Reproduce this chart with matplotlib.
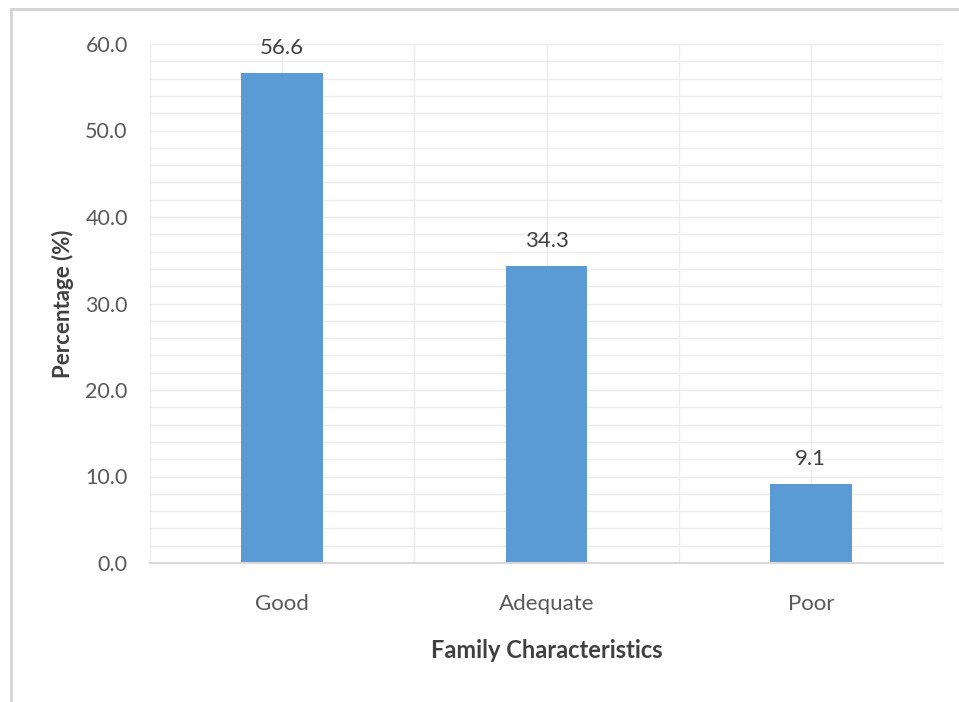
import matplotlib.pyplot as plt
from matplotlib.patches import Rectangle
import numpy as np

categories = ["Good", "Adequate", "Poor"]
percentages = [56.6, 34.3, 9.1]
y_ticks = [0, 10, 20, 30, 40, 50, 60]

plt.rcParams['font.family'] = ['Lato', 'DejaVu Sans']

fig = plt.figure(figsize=(9.59, 7.02), dpi=100)
fig.patch.set_facecolor('white')

# outer chart frame
fig.patches.append(Rectangle((11 / 959, -0.05), 1.2, 1 - 9 / 702 + 0.05,
                             transform=fig.transFigure, fill=False,
                             edgecolor='#d4d4d4', linewidth=2.0, zorder=0))

ax = fig.add_axes([150 / 959, 1 - 563 / 702, 793 / 959, 519 / 702])
x = np.arange(len(categories))
ax.bar(x, percentages, width=0.31, color='#5B9BD5', zorder=3)

ax.set_xlim(-0.5, len(categories) - 0.5)
ax.set_ylim(0, 60)

# minor horizontal grid every 2 units, vertical grid at centres and boundaries
for yv in np.arange(2, 61, 2):
    ax.axhline(yv, color='#ececec', linewidth=1.0, zorder=1)
for xv in np.arange(-0.5, len(categories) - 0.4, 0.5):
    ax.axvline(xv, color='#ececec', linewidth=1.0, zorder=1)

ax.set_yticks(y_ticks)
ax.set_yticklabels([f"{v:.1f}" for v in y_ticks])
ax.set_xticks(x)
ax.set_xticklabels(categories)
ax.tick_params(axis='both', length=0, colors='#595959')
ax.tick_params(axis='y', pad=16, labelsize=15.5)
ax.tick_params(axis='x', pad=22, labelsize=16)

for s in ['top', 'right', 'left']:
    ax.spines[s].set_visible(False)
ax.spines['bottom'].set_color('#d9d9d9')
ax.spines['bottom'].set_linewidth(1.5)
ax.spines['bottom'].set_zorder(4)

for xi, v in zip(x, percentages):
    ax.annotate(f"{v:.1f}", (xi, v), xytext=(0, 11), textcoords='offset points',
                ha='center', va='bottom', fontsize=16, color='#404040')

ax.set_xlabel("Family Characteristics", fontsize=17, fontweight='bold',
              color='#404040', labelpad=18)
ax.set_ylabel("Percentage (%)", fontsize=16, fontweight='bold',
              color='#404040', labelpad=8)

fig.savefig("out.png", dpi=100, facecolor='white')
